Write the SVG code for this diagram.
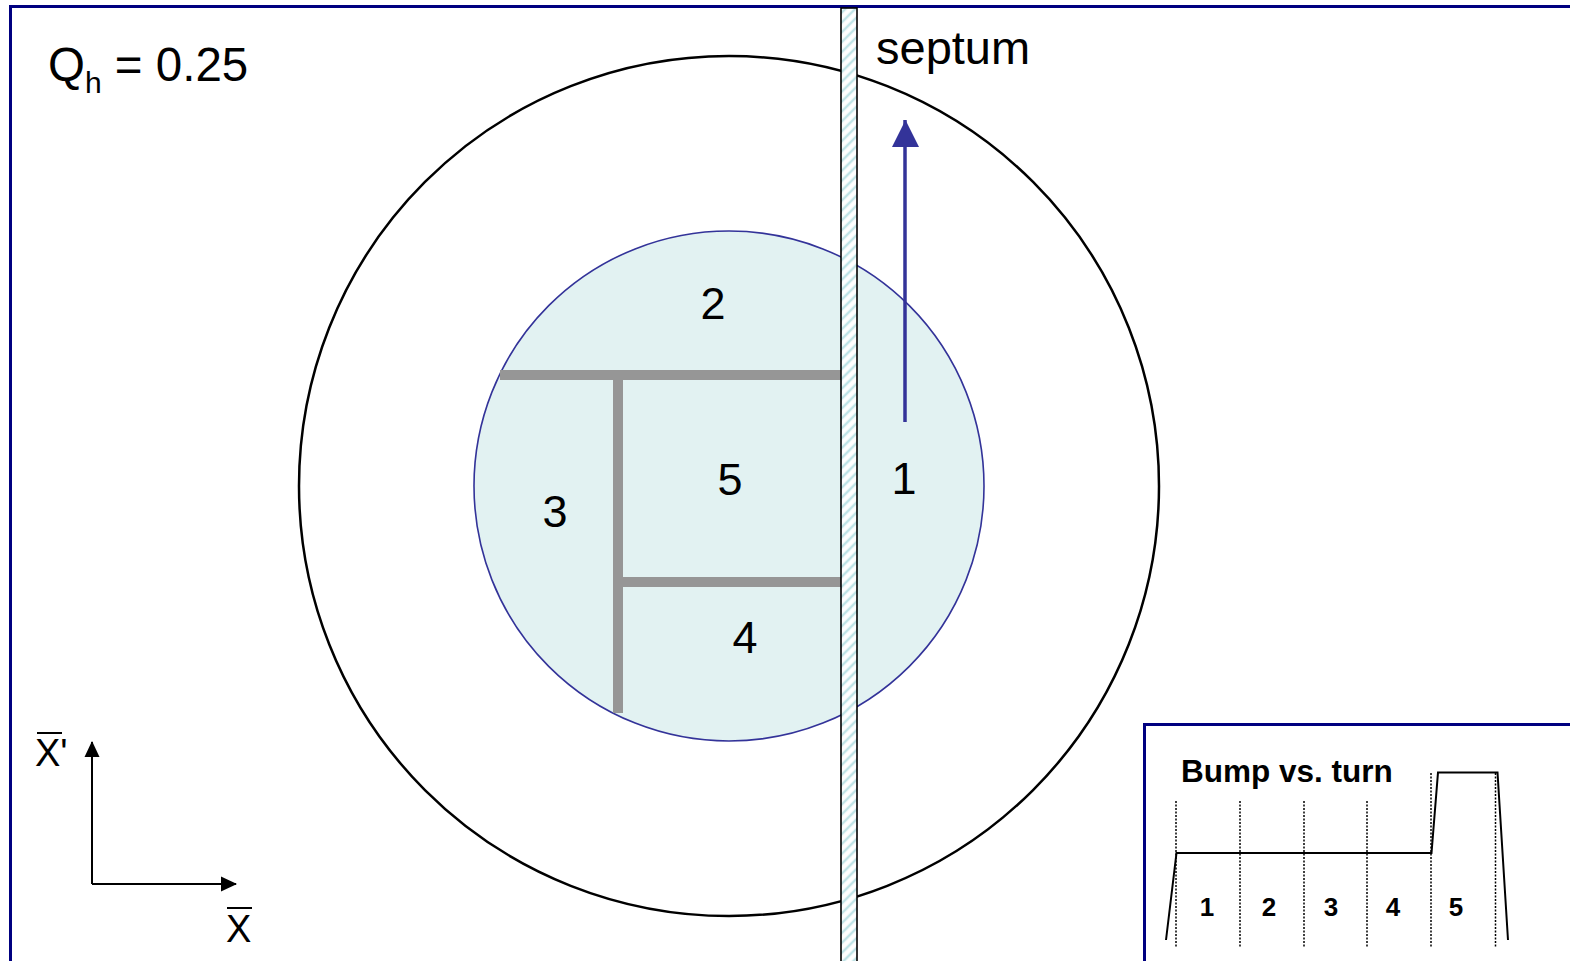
<svg xmlns="http://www.w3.org/2000/svg" width="1570" height="961" viewBox="0 0 1570 961">
<style>
.t{font-family:"Liberation Sans",Arial,sans-serif;fill:#000}
.big{font-size:47px}
.num{font-size:45px;text-anchor:middle}
.bold{font-weight:bold}
.small{font-size:26px;text-anchor:middle;font-weight:bold}
.gray{stroke:#969696;stroke-width:10;fill:none}
.dot{stroke:#000;stroke-width:1.5;stroke-dasharray:2,1.5;fill:none}
</style>
<defs>
<pattern id="hatch" patternUnits="userSpaceOnUse" width="7" height="7" patternTransform="rotate(-45)">
<rect width="7" height="7" fill="#ffffff"/>
<line x1="0" y1="2" x2="7" y2="2" stroke="#bfe3e6" stroke-width="2.5"/>
</pattern>
<marker id="blackHead" markerWidth="16" markerHeight="16" refX="15" refY="8" orient="auto" markerUnits="userSpaceOnUse" viewBox="0 0 16 16">
<path d="M0,0.5 L16,8 L0,15.5 z" fill="#000"/>
</marker>
</defs>
<rect x="0" y="0" width="1570" height="961" fill="#fff"/>
<rect id="frame" x="10.5" y="6.5" width="1580" height="980" fill="none" stroke="#000080" stroke-width="3"/>

<g id="outer-circle"><circle cx="729" cy="486" r="430" fill="none" stroke="#000" stroke-width="2.5"/></g>
<g id="beam"><circle cx="729" cy="486" r="255" fill="#e2f2f2" stroke="#333399" stroke-width="1.6"/></g>

<g id="partitions">
<line class="gray" x1="500" y1="375" x2="841" y2="375"/>
<line class="gray" x1="618" y1="375" x2="618" y2="713"/>
<line class="gray" x1="618" y1="582" x2="841" y2="582"/>
</g>

<g id="region-labels">
<text class="t num" x="713" y="319">2</text>
<text class="t num" x="730" y="495">5</text>
<text class="t num" x="555" y="527">3</text>
<text class="t num" x="745" y="653">4</text>
<text class="t num" x="904" y="494">1</text>
</g>

<g id="septum">
<rect x="841" y="8" width="16" height="970" fill="url(#hatch)" stroke="#000" stroke-width="1.6"/>
<text class="t big" x="876" y="64">septum</text>
</g>

<g id="connectors">
<line x1="905" y1="422" x2="905" y2="120" stroke="#333399" stroke-width="3.5"/>
<path d="M892,147 L905.5,120 L919,147 z" fill="#333399"/>
<line x1="92" y1="884" x2="92" y2="742" stroke="#000" stroke-width="2" marker-end="url(#blackHead)"/>
<line x1="92" y1="884" x2="236" y2="884" stroke="#000" stroke-width="2" marker-end="url(#blackHead)"/>
</g>

<g id="qh-label">
<text class="t" x="48" y="81" font-size="47.5">Q<tspan font-size="30" dy="12">h</tspan><tspan dy="-12"> = 0.25</tspan></text>
</g>

<g id="axis-labels">
<text class="t" x="35" y="766" font-size="38">X'</text>
<line x1="37" y1="733" x2="62" y2="733" stroke="#000" stroke-width="2"/>
<text class="t" x="226" y="942" font-size="38">X</text>
<line x1="227" y1="908" x2="252" y2="908" stroke="#000" stroke-width="2"/>
</g>

<g id="inset">
<rect x="1144.5" y="724.5" width="500" height="300" fill="#fff" stroke="#000080" stroke-width="3"/>
<text class="t bold" x="1181" y="782" font-size="31.5">Bump vs. turn</text>
<line class="dot" x1="1176" y1="801" x2="1176" y2="948"/>
<line class="dot" x1="1240" y1="801" x2="1240" y2="948"/>
<line class="dot" x1="1304" y1="801" x2="1304" y2="948"/>
<line class="dot" x1="1367" y1="801" x2="1367" y2="948"/>
<line class="dot" x1="1431" y1="773" x2="1431" y2="948"/>
<line class="dot" x1="1495.5" y1="773" x2="1495.5" y2="948"/>
<path d="M1166,940 L1176.5,853 L1431.5,853 L1438,772.5 L1497.5,772.5 L1508,940" fill="none" stroke="#000" stroke-width="2"/>
<text class="t small" x="1207" y="916">1</text>
<text class="t small" x="1269" y="916">2</text>
<text class="t small" x="1331" y="916">3</text>
<text class="t small" x="1393" y="916">4</text>
<text class="t small" x="1456" y="916">5</text>
</g>
</svg>
